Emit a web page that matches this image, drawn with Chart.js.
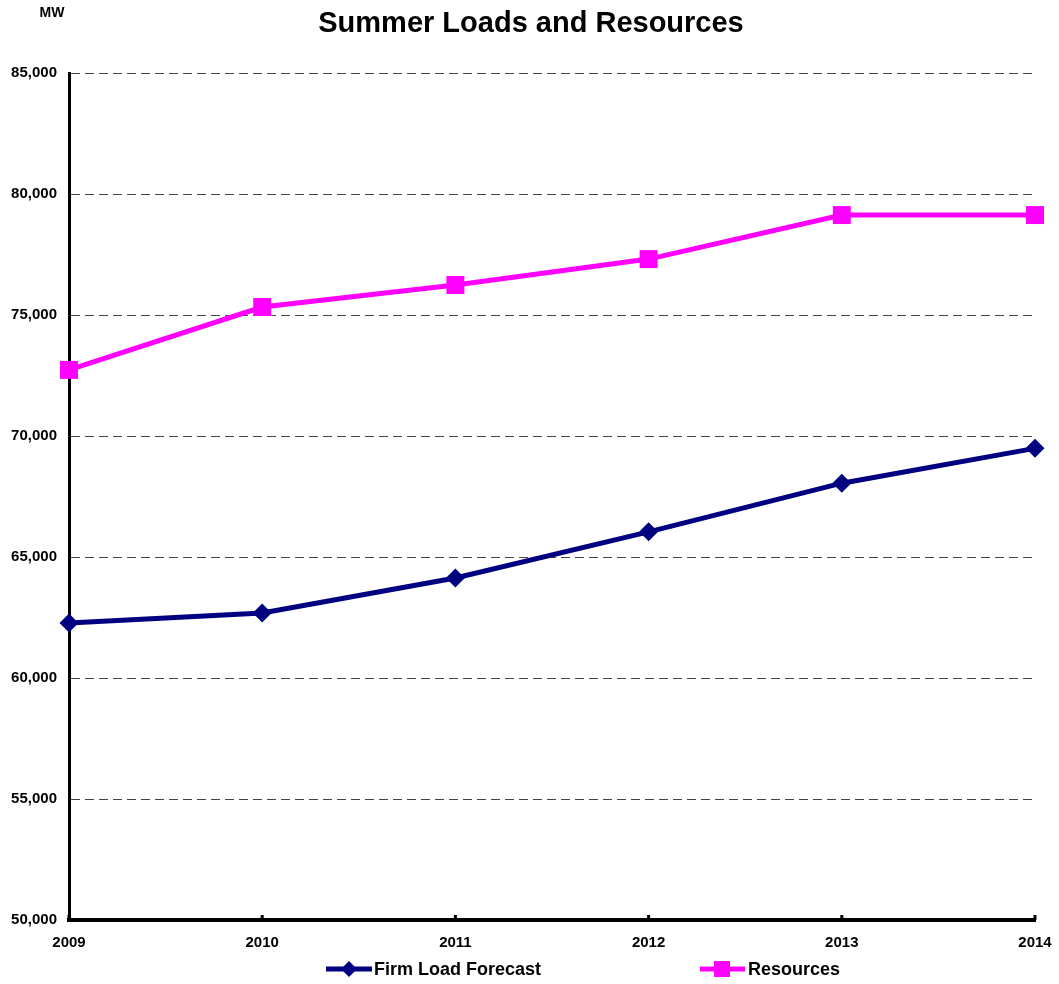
<!DOCTYPE html>
<html>
<head>
<meta charset="utf-8">
<title>Summer Loads and Resources</title>
<script src="https://cdn.jsdelivr.net/npm/chart.js@4.4.1/dist/chart.umd.min.js"></script>
<style>
  html, body { margin: 0; padding: 0; background: #ffffff; }
  #wrap { width: 1059px; height: 984px; position: relative; }
</style>
</head>
<body>
<div id="wrap"><canvas id="chart" width="1059" height="984"></canvas></div>
<script>
// Summer peak outlook, MW
const years = ['2009', '2010', '2011', '2012', '2013', '2014'];
const firmLoadForecast = [62270, 62690, 64130, 66040, 68050, 69490];
const resources = [72730, 75330, 76240, 77310, 79130, 79130];
const yMin = 50000;
const yMax = 85000;
const yStep = 5000;

const FONT = 'Arial, "Liberation Sans", Helvetica, sans-serif';
const NAVY = '#000080';
const MAGENTA = '#FF00FF';

function fmt(v) {
  return v.toLocaleString('en-US');
}

// Title, unit label, axis tick marks and the legend
const decorations = {
  id: 'decorations',
  afterDraw(chart) {
    const ctx = chart.ctx;
    const area = chart.chartArea;
    const xs = chart.scales.x;
    ctx.save();

    // title
    ctx.fillStyle = '#000';
    ctx.textAlign = 'center';
    ctx.textBaseline = 'middle';
    ctx.font = 'bold 29px ' + FONT;
    ctx.fillText('Summer Loads and Resources', 531, 24);

    // unit
    ctx.font = 'bold 14px ' + FONT;
    ctx.fillText('MW', 52, 13);

    // small inward tick marks on the category axis
    ctx.strokeStyle = '#000';
    ctx.lineWidth = 3;
    years.forEach((y, i) => {
      const px = xs.getPixelForValue(i);
      ctx.beginPath();
      ctx.moveTo(px, area.bottom);
      ctx.lineTo(px, area.bottom - 5);
      ctx.stroke();
    });

    // legend
    const ly = 969;
    ctx.lineWidth = 5;
    ctx.strokeStyle = NAVY;
    ctx.beginPath();
    ctx.moveTo(326, ly);
    ctx.lineTo(372, ly);
    ctx.stroke();
    ctx.fillStyle = NAVY;
    ctx.beginPath();
    ctx.moveTo(349, ly - 8);
    ctx.lineTo(357, ly);
    ctx.lineTo(349, ly + 8);
    ctx.lineTo(341, ly);
    ctx.closePath();
    ctx.fill();

    ctx.strokeStyle = MAGENTA;
    ctx.beginPath();
    ctx.moveTo(700, ly);
    ctx.lineTo(745, ly);
    ctx.stroke();
    ctx.fillStyle = MAGENTA;
    ctx.fillRect(722 - 8, ly - 8, 16, 16);

    ctx.fillStyle = '#000';
    ctx.textAlign = 'left';
    ctx.font = 'bold 18px ' + FONT;
    ctx.fillText('Firm Load Forecast', 374, ly + 1);
    ctx.fillText('Resources', 748, ly + 1);

    ctx.restore();
  }
};

new Chart(document.getElementById('chart'), {
  type: 'line',
  data: {
    labels: years,
    datasets: [
      {
        label: 'Firm Load Forecast',
        data: firmLoadForecast,
        borderColor: NAVY,
        backgroundColor: NAVY,
        borderWidth: 5,
        pointStyle: 'rectRot',
        pointRadius: 9.5,
        pointHoverRadius: 9.5,
        pointBorderWidth: 0,
        tension: 0,
        clip: false
      },
      {
        label: 'Resources',
        data: resources,
        borderColor: MAGENTA,
        backgroundColor: MAGENTA,
        borderWidth: 5,
        pointStyle: 'rect',
        pointRadius: 12.7,
        pointHoverRadius: 12.7,
        pointBorderWidth: 0,
        tension: 0,
        clip: false
      }
    ]
  },
  options: {
    responsive: false,
    animation: false,
    events: [],
    layout: { padding: { top: 73, right: 24, bottom: 0, left: 0 } },
    plugins: {
      legend: { display: false },
      title: { display: false },
      tooltip: { enabled: false }
    },
    scales: {
      x: {
        type: 'category',
        offset: false,
        afterFit(scale) {
          scale.height = 64;
          scale.paddingLeft = 0;
          scale.paddingRight = 0;
        },
        grid: { display: false, drawTicks: false },
        border: { display: true, color: '#000', width: 4 },
        ticks: {
          autoSkip: false,
          maxRotation: 0,
          padding: 14,
          color: '#000',
          font: { family: FONT, size: 15, weight: 'bold' }
        }
      },
      y: {
        min: yMin,
        max: yMax,
        afterFit(scale) {
          scale.width = 69;
          scale.paddingTop = 0;
          scale.paddingBottom = 0;
        },
        grid: {
          color: '#444',
          lineWidth: 1,
          drawTicks: false
        },
        border: { display: true, color: '#000', width: 3, dash: [9, 5] },
        ticks: {
          stepSize: yStep,
          padding: 12,
          color: '#000',
          font: { family: FONT, size: 15, weight: 'bold' },
          callback: (v) => fmt(v)
        }
      }
    }
  },
  plugins: [decorations]
});
</script>
</body>
</html>
